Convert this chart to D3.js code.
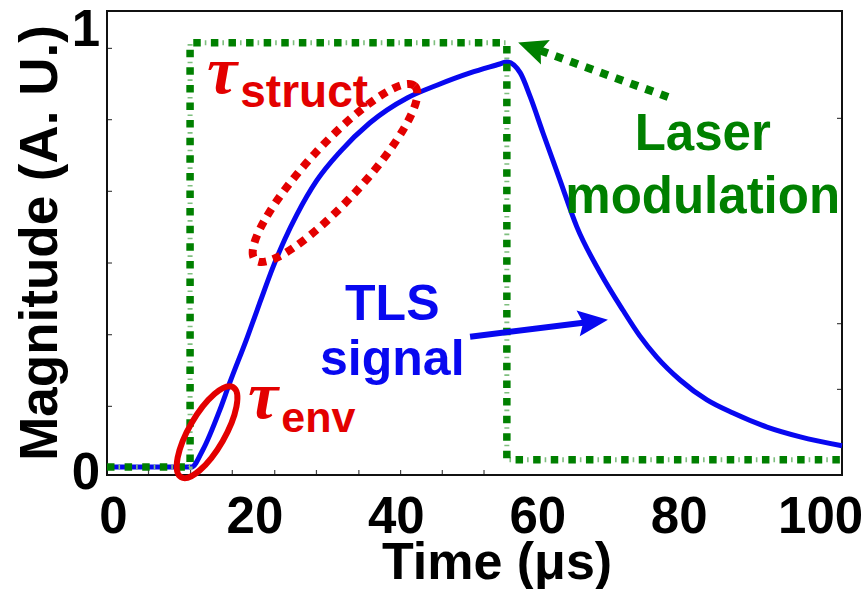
<html>
<head>
<title>TLS signal</title>
<style>
  body { margin: 0; background: #fff; }
  text { font-family: "Liberation Sans", Arial, sans-serif; font-weight: bold; }
</style>
</head>
<body>
<div id="viz"></div>
<script src="https://d3js.org/d3.v7.min.js"></script>
<script>

var width = 868;
var height = 589;

// TLS signal (blue)
var timeUs = [-0.85, 11.1, 12.7, 15.1, 16.5, 18.95, 20.8, 22.6, 24.3, 26.0, 28.8, 32.1, 36.3, 41.6, 45.8, 50.5, 54.7, 55.7,
              57.6, 59.0, 60.8, 63.2, 65.6, 68.9, 72.1, 74.5, 76.9, 80.2, 84.0, 87.7, 92.5, 97.2, 103.1];
var tlsSignal = [0, 0, 0.04, 0.134, 0.198, 0.304, 0.389, 0.470, 0.537, 0.595, 0.675, 0.743, 0.811, 0.870, 0.900, 0.929, 0.950, 0.955,
                 0.929, 0.873, 0.788, 0.677, 0.566, 0.458, 0.370, 0.309, 0.259, 0.205, 0.158, 0.127, 0.094, 0.071, 0.050];

// laser modulation (green square wave)
var laserTime = [-0.85, 10.9, 10.9, 55.7, 55.7, 103.1];
var laserLevel = [0, 0, 1, 1, 0.017, 0.017];

var xTickLabels = [0, 20, 40, 60, 80, 100];
var yTickLabels = [0, 1];
var xMinorTicks = [4.95, 10.9, 16.8, 22.8, 28.7, 34.7, 40.6, 46.5, 52.4];
var yMinorTicks = [0.144, 0.313, 0.482, 0.651, 0.820, 0.988];
var yRightTicks = [0.184, 0.339, 0.823];

var svg = d3.select("#viz")
    .append('svg')
    .attr('width', width)
    .attr('height', height);

var x = d3.scaleLinear().domain([-0.85, 103.1]).range([107, 842]);
var y = d3.scaleLinear().domain([-0.019, 1.075]).range([475, 11]);

var green = "#008000";
var red = "#e30000";
var blue = "#0808f0";

// minor ticks
var gx = svg.append('g').attr('transform', 'translate(0,475)')
    .call(d3.axisBottom(x).tickValues(xMinorTicks).tickSize(-5).tickFormat(''));
var gy = svg.append('g').attr('transform', 'translate(107,0)')
    .call(d3.axisLeft(y).tickValues(yMinorTicks).tickSize(-5).tickFormat(''));
var gr = svg.append('g').attr('transform', 'translate(842,0)')
    .call(d3.axisRight(y).tickValues(yRightTicks).tickSize(-5).tickFormat(''));
[gx, gy, gr].forEach(function (g) {
    g.select('.domain').remove();
    g.selectAll('line').attr('stroke', '#444').attr('stroke-width', 1.2);
});

// tick labels
var xl = svg.append('g').attr('transform', 'translate(0,475)')
    .call(d3.axisBottom(x).tickValues(xTickLabels).tickSize(0).tickFormat(d3.format('d')));
xl.select('.domain').remove();
xl.selectAll('text').attr('dy', null).attr('y', 58)
    .attr('font-size', 51).attr('font-family', null).attr('fill', '#000');

var yl = svg.append('g').attr('transform', 'translate(107,0)')
    .call(d3.axisLeft(y).tickValues(yTickLabels).tickSize(0).tickPadding(7).tickFormat(d3.format('d')));
yl.select('.domain').remove();
yl.selectAll('text')
    .attr('dy', function (d) { return d === 1 ? 3 : 22; })
    .attr('font-size', 51).attr('font-family', null).attr('fill', '#000');

// frame
svg.append('rect')
    .attr('x', x.range()[0]).attr('y', y.range()[1])
    .attr('width', x.range()[1] - x.range()[0])
    .attr('height', y.range()[0] - y.range()[1])
    .attr('fill', 'none').attr('stroke', '#111').attr('stroke-width', 2);

// blue curve
var sig = timeUs.map(function (t, i) { return [t, tlsSignal[i]]; });
var line = d3.line()
    .x(function (d) { return x(d[0]); })
    .y(function (d) { return y(d[1]); })
    .curve(d3.curveMonotoneX);

svg.append('path')
    .attr('d', line(sig))
    .attr('fill', 'none')
    .attr('stroke', blue)
    .attr('stroke-width', 5)
    .attr('stroke-linejoin', 'round');

// green laser modulation
var las = laserTime.map(function (t, i) { return [t, laserLevel[i]]; });
var step = d3.line()
    .x(function (d) { return x(d[0]); })
    .y(function (d) { return y(d[1]); });

svg.append('path')
    .attr('d', step(las))
    .attr('fill', 'none')
    .attr('stroke', '#7fbf7f')
    .attr('stroke-width', 5)
    .attr('stroke-dasharray', '1.6,16')
    .attr('stroke-dashoffset', -11.5);
svg.append('path')
    .attr('d', step(las))
    .attr('fill', 'none')
    .attr('stroke', green)
    .attr('stroke-width', 7.5)
    .attr('stroke-dasharray', '7.5,10.1');

// annotations: ellipses
function ellipse(cx, cy, rx, ry, rot) {
    return svg.append('ellipse')
        .attr('transform', 'translate(' + x(cx) + ',' + y(cy) + ') rotate(' + rot + ')')
        .attr('rx', rx).attr('ry', ry)
        .attr('fill', 'none');
}
ellipse(31.4, 0.693, 118, 28, -47.5)
    .attr('stroke', red).attr('stroke-width', 8).attr('stroke-dasharray', '8,7');
ellipse(13.3, 0.082, 52, 18, -60)
    .attr('stroke', red).attr('stroke-width', 6);

// arrows
function arrow(x0, y0, x1, y1, color, w, dash, hl, hw) {
    var X0 = x(x0), Y0 = y(y0), X1 = x(x1), Y1 = y(y1);
    var a = Math.atan2(Y1 - Y0, X1 - X0);
    var bx = X1 - hl * Math.cos(a), by = Y1 - hl * Math.sin(a);
    svg.append('line')
        .attr('x1', X0).attr('y1', Y0).attr('x2', bx + 2 * Math.cos(a)).attr('y2', by + 2 * Math.sin(a))
        .attr('stroke', color).attr('stroke-width', w)
        .attr('stroke-dasharray', dash);
    var px = -Math.sin(a), py = Math.cos(a);
    svg.append('path')
        .attr('d', 'M' + X1 + ',' + Y1 +
            'L' + (bx + px * hw - 5 * Math.cos(a)) + ',' + (by + py * hw - 5 * Math.sin(a)) +
            'L' + bx + ',' + by +
            'L' + (bx - px * hw - 5 * Math.cos(a)) + ',' + (by - py * hw - 5 * Math.sin(a)) + 'Z')
        .attr('fill', color);
}
arrow(50.5, 0.307, 70.0, 0.347, blue, 6, null, 25, 13);
arrow(78.5, 0.872, 57.3, 1.001, green, 8, '8,8', 24, 13);

// texts
function label(tx, ty, str, color, size) {
    return svg.append('text')
        .attr('x', x(tx)).attr('y', y(ty))
        .attr('text-anchor', 'middle')
        .attr('font-size', size)
        .attr('fill', color)
        .text(str);
}
label(39.5, 0.346, 'TLS', blue, 50);
label(39.5, 0.217, 'signal', blue, 50);
label(83.4, 0.747, 'Laser', green, 51);
label(83.4, 0.598, 'modulation', green, 51);

function tau(tx, ty, sub, size) {
    var t = svg.append('text')
        .attr('x', x(tx)).attr('y', y(ty))
        .attr('fill', red);
    t.append('tspan')
        .attr('font-family', '"Liberation Serif", serif')
        .attr('font-style', 'italic')
        .attr('font-size', 68)
        .text('τ');
    t.append('tspan')
        .attr('dy', 14)
        .attr('dx', 3)
        .attr('font-size', size)
        .text(sub);
}
tau(13.3, 0.882, 'struct', 46);
tau(19.1, 0.115, 'env', 43);

// axis titles
svg.append('text')
    .attr('transform', 'translate(57,243) rotate(-90)')
    .attr('text-anchor', 'middle')
    .attr('font-size', 53)
    .text('Magnitude (A. U.)');
svg.append('text')
    .attr('x', 497).attr('y', 579)
    .attr('text-anchor', 'middle')
    .attr('font-size', 52)
    .text('Time (μs)');

</script>
</body>
</html>
